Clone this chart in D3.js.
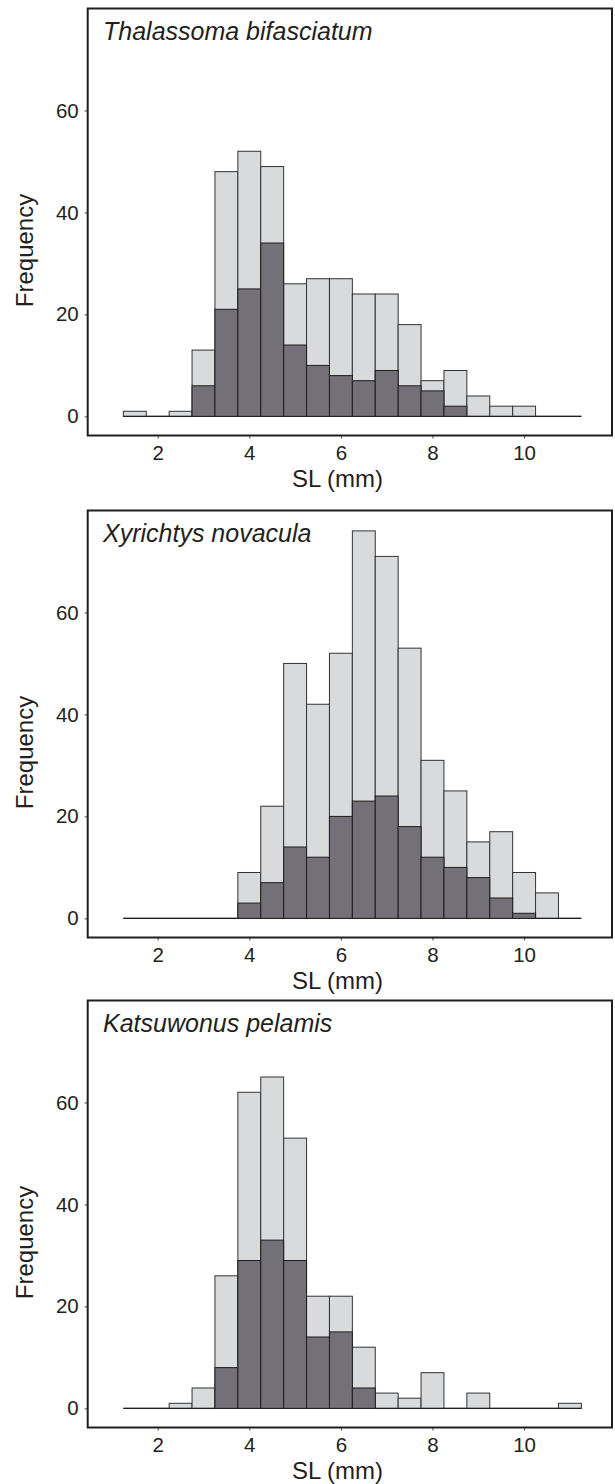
<!DOCTYPE html>
<html>
<head>
<meta charset="utf-8">
<script src="https://cdn.jsdelivr.net/npm/d3@7"></script>
<style>
body { margin: 0; background: #fff; }
svg text { font-family: "Liberation Sans", Arial, sans-serif; fill: #231f20; }
</style>
</head>
<body>
<div id="chart"></div>
<script>
// bin centres of SL (mm), every bin 0.5 mm wide
const binMids = [1.5, 2, 2.5, 3, 3.5, 4, 4.5, 5, 5.5, 6, 6.5, 7, 7.5, 8, 8.5, 9, 9.5, 10, 10.5, 11]
const binWidth = 0.5

const speciesNames = ["Thalassoma bifasciatum", "Xyrichtys novacula", "Katsuwonus pelamis"]

// light bars = all larvae, dark bars = subset
const thalAll  = [1, 0, 1, 13, 48, 52, 49, 26, 27, 27, 24, 24, 18, 7, 9, 4, 2, 2, 0, 0]
const thalDark = [0, 0, 0, 6, 21, 25, 34, 14, 10, 8, 7, 9, 6, 5, 2, 0, 0, 0, 0, 0]
const xyrAll   = [0, 0, 0, 0, 0, 9, 22, 50, 42, 52, 76, 71, 53, 31, 25, 15, 17, 9, 5, 0]
const xyrDark  = [0, 0, 0, 0, 0, 3, 7, 14, 12, 20, 23, 24, 18, 12, 10, 8, 4, 1, 0, 0]
const katAll   = [0, 0, 1, 4, 26, 62, 65, 53, 22, 22, 12, 3, 2, 7, 0, 3, 0, 0, 0, 1]
const katDark  = [0, 0, 0, 0, 8, 29, 33, 29, 14, 15, 4, 0, 0, 0, 0, 0, 0, 0, 0, 0]

const yTicks = [0, 20, 40, 60]
const xTicks = [2, 4, 6, 8, 10]

const W = 615, H = 1484
const left = 87.7, right = 612
const panelH = 427
const panelTops = [8.5, 510.5, 1000.5]

const svg = d3.select("#chart").append("svg")
    .attr("width", W)
    .attr("height", H)

const x = d3.scaleLinear().domain([0.4716, 11.919]).range([left, right])

function drawBars(g, y, counts, fill, stroke) {
    const bins = binMids.map((m, i) => ({ x0: m - binWidth / 2, x1: m + binWidth / 2, n: counts[i] }))
    g.selectAll(null)
        .data(bins.filter(d => d.n > 0))
        .enter().append("rect")
        .attr("x", d => x(d.x0))
        .attr("width", d => x(d.x1) - x(d.x0))
        .attr("y", d => y(d.n))
        .attr("height", d => y(0) - y(d.n))
        .style("fill", fill)
        .style("stroke", stroke)
        .style("stroke-width", 1)
    // empty bins still show as a flat line on 0
    g.selectAll(null)
        .data(bins.filter(d => d.n == 0))
        .enter().append("line")
        .attr("x1", d => x(d.x0))
        .attr("x2", d => x(d.x1))
        .attr("y1", y(0))
        .attr("y2", y(0))
        .style("stroke", stroke)
        .style("stroke-width", 1.2)
}

function drawPanel(top, name, allCounts, darkCounts) {
    const bottom = top + panelH
    const y = d3.scaleLinear().domain([-3.75, 80]).range([bottom, top])
    const g = svg.append("g")

    // light (all) bars first, dark on top
    drawBars(g.append("g"), y, allCounts, "#d9dadc", "#333")
    drawBars(g.append("g"), y, darkCounts, "#737177", "#1e1e1e")

    // axes
    const ya = g.append("g")
        .attr("transform", `translate(${left},0)`)
        .call(d3.axisLeft(y).tickValues(yTicks).tickSize(3).tickPadding(6))
    const xa = g.append("g")
        .attr("transform", `translate(0,${bottom})`)
        .call(d3.axisBottom(x).tickValues(xTicks).tickSize(3).tickPadding(7))
    for (const a of [ya, xa]) {
        a.select(".domain").remove()
        a.selectAll(".tick line").style("stroke", "#444")
        a.selectAll(".tick text")
            .style("font-size", "20.5px")
            .style("font-family", '"Liberation Sans", Arial, sans-serif')
            .style("fill", "#231f20")
    }

    // frame
    g.append("rect")
        .attr("x", left)
        .attr("y", top)
        .attr("width", right - left)
        .attr("height", panelH)
        .style("fill", "none")
        .style("stroke", "#1f1f1f")
        .style("stroke-width", 2)

    // species name
    g.append("text")
        .attr("x", 103)
        .attr("y", top + 31)
        .style("font-size", "25px")
        .style("font-style", "italic")
        .text(name)

    // axis titles
    g.append("text")
        .attr("x", 337.5)
        .attr("y", bottom + 51)
        .attr("text-anchor", "middle")
        .style("font-size", "24px")
        .text("SL (mm)")

    g.append("text")
        .attr("transform", `translate(33,${top + 242}) rotate(-90)`)
        .attr("text-anchor", "middle")
        .style("font-size", "24px")
        .text("Frequency")
}

drawPanel(panelTops[0], speciesNames[0], thalAll, thalDark)
drawPanel(panelTops[1], speciesNames[1], xyrAll, xyrDark)
drawPanel(panelTops[2], speciesNames[2], katAll, katDark)
</script>
</body>
</html>
